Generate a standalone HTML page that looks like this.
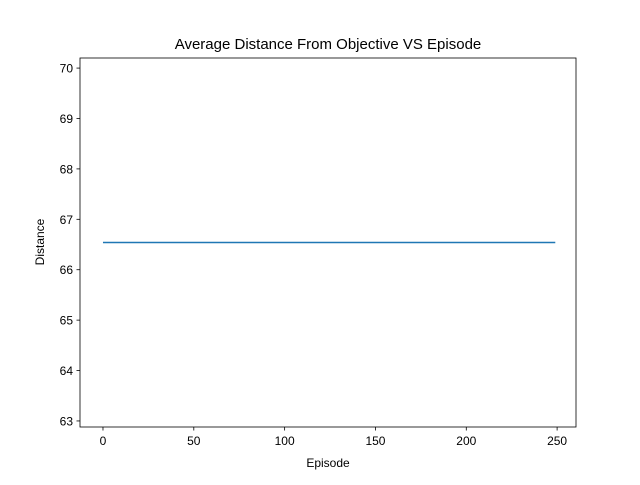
<!DOCTYPE html>
<html><head><meta charset="utf-8"><style>
body{margin:0;background:#fff;}
svg text{font-family:"Liberation Sans","DejaVu Sans",sans-serif;fill:#000;}
</style></head><body>
<svg id="chart" width="640" height="480" xmlns="http://www.w3.org/2000/svg">
<rect width="640" height="480" fill="#fff"/>
<text x="328" y="49" font-size="15" text-anchor="middle">Average Distance From Objective VS Episode</text>
<g id="xticks"></g>
<g id="yticks"></g>
<polyline id="line" fill="none" stroke="#1f77b4" stroke-width="1.5"/>
<rect x="80" y="58" width="496" height="369" fill="none" stroke="#000" stroke-width="0.8"/>
<text x="328" y="467" font-size="12" text-anchor="middle">Episode</text>
<text x="44" y="242" font-size="12" text-anchor="middle" transform="rotate(-90 44 242)">Distance</text>
</svg>
<script>
const episodes = [0, 249];
const distances = [66.54, 66.54];
const xTickLabels = [0, 50, 100, 150, 200, 250];
const yTickLabels = [63, 64, 65, 66, 67, 68, 69, 70];
const NS = "http://www.w3.org/2000/svg";
function xs(v){ return 80 + (v - (-12.65)) / (260.4 - (-12.65)) * 496; }
function ys(v){ return 427 - (v - 62.88) / (70.2 - 62.88) * 369; }
const xg = document.getElementById('xticks');
xTickLabels.forEach(t => {
  const l = document.createElementNS(NS, 'line');
  
  
  l.setAttribute('x1', xs(t)); l.setAttribute('x2', xs(t));
  l.setAttribute('y1', 427); l.setAttribute('y2', 430.5);
  l.setAttribute('stroke', '#000'); l.setAttribute('stroke-width', '0.8');
  xg.appendChild(l);
  const tx = document.createElementNS(NS, 'text');
  
  
  tx.setAttribute('x', xs(t)); tx.setAttribute('y', 445);
  tx.setAttribute('font-size', '12'); tx.setAttribute('text-anchor', 'middle');
  tx.textContent = t;
  xg.appendChild(tx);
});
const yg = document.getElementById('yticks');
yTickLabels.forEach(t => {
  const l = document.createElementNS(NS, 'line');
  
  
  l.setAttribute('x1', 76.5); l.setAttribute('x2', 80);
  l.setAttribute('y1', ys(t)); l.setAttribute('y2', ys(t));
  l.setAttribute('stroke', '#000'); l.setAttribute('stroke-width', '0.8');
  yg.appendChild(l);
  const tx = document.createElementNS(NS, 'text');
  
  
  tx.setAttribute('x', 73); tx.setAttribute('y', ys(t) + 4.5);
  tx.setAttribute('font-size', '12'); tx.setAttribute('text-anchor', 'end');
  tx.textContent = t;
  yg.appendChild(tx);
});
document.getElementById('line').setAttribute('points',
  episodes.map((e, i) => xs(e) + ',' + ys(distances[i])).join(' '));
</script>
</body></html>
